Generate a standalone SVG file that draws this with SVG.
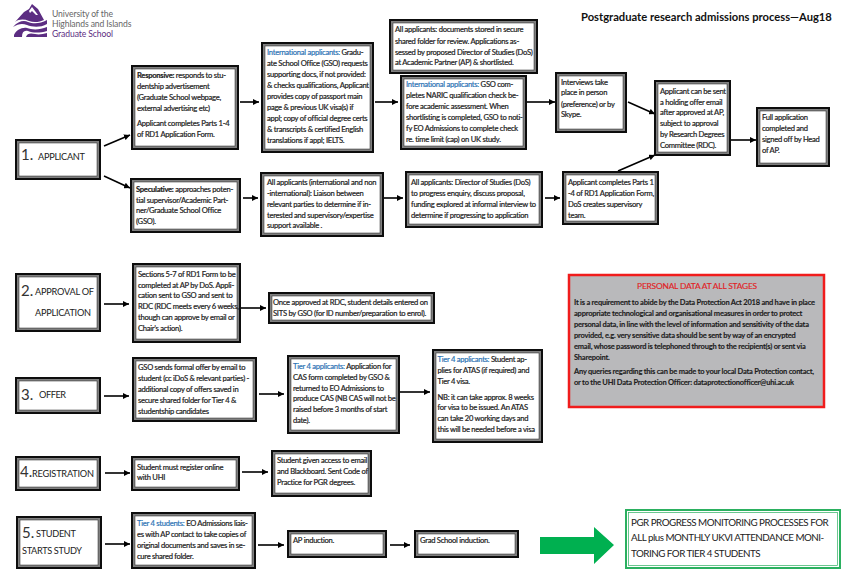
<svg xmlns="http://www.w3.org/2000/svg" width="850" height="575" viewBox="0 0 850 575">
<style>
text{font-family:"Lato","Liberation Sans",sans-serif;fill:#222}
.t{font-size:7.6px;letter-spacing:-.27px;stroke:#222;stroke-width:.2px}
.b{font-weight:bold}
.h{fill:#2e74b5;stroke:#2e74b5}
.l{font-size:9.200px;fill:#222}
.n{font-size:15px;fill:#333}
.o{fill:#0d0d0d}.m{fill:#808080}.i{fill:#fff;stroke:#222;stroke-width:.5}
.c line{stroke:#000;stroke-width:1.6;marker-end:url(#a)}
.r{font-size:7.500px;font-weight:bold;letter-spacing:-.22px;stroke:#111;stroke-width:.1px}
.u{font-size:8.600px;letter-spacing:-.1px}
</style>
<defs><marker id="a" markerUnits="userSpaceOnUse" markerWidth="7" markerHeight="6" refX="6" refY="3" orient="auto"><path d="M0 0L6 3L0 6z" fill="#000"/></marker></defs>
<rect width="850" height="575" fill="#fff"/>
<g id="logo">
<path d="M13 27C18 21 24 20 28 22C33 24 40 24 47 20L47 24C40 28 32 27 27 25C22 23 18 24 13 27z M14 35C16 30 22 27 27 28C32 30 40 30 47 27L47 31C40 33 33 33 28 31C24 30 22 32 22 37L14 37z M26 37C27 33 31 33 35 34C39 35 43 34 47 33L47 37z" fill="#5c2d82"/>
<path d="M15 22L24 12L29 9L32 4L38 9L44 20C40 22 34 23 29 21C24 19 19 19 15 22z" fill="#5c2d82"/>
<path d="M32 7L38 15L36 15L32 11L30 13L29 11z" fill="#fff"/>
<text class="u" x="52" y="17" style="fill:#666">University of the</text>
<text class="u" x="52" y="26.500" style="fill:#666">Highlands and Islands</text>
<text class="u" x="52" y="36.500" style="fill:#5c2d82">Graduate School</text>
</g>
<text id="title" x="581" y="21" font-size="11.200" class="b" style="fill:#111">Postgraduate research admissions process—Aug18</text>
<g class="c" id="connectors">
<line x1="104" y1="146" x2="130" y2="135"/><line x1="104" y1="176" x2="130" y2="188"/>
<line x1="240" y1="102" x2="259" y2="102"/><line x1="375" y1="102" x2="398" y2="102"/>
<line x1="527" y1="102" x2="555" y2="102"/><line x1="628" y1="102" x2="655" y2="114"/>
<line x1="731" y1="140" x2="756" y2="140"/><line x1="243" y1="198" x2="258" y2="198"/>
<line x1="384" y1="198" x2="403" y2="198"/><line x1="545" y1="198" x2="560" y2="198"/>
<line x1="618" y1="171" x2="655" y2="155"/><line x1="104" y1="304" x2="129" y2="304"/>
<line x1="241" y1="308" x2="266" y2="308"/><line x1="104" y1="396" x2="129" y2="396"/>
<line x1="259" y1="394" x2="284" y2="394"/><line x1="400" y1="392" x2="430" y2="392"/>
<line x1="105" y1="473" x2="130" y2="473"/><line x1="242" y1="472" x2="268" y2="472"/>
<line x1="105" y1="544" x2="130" y2="544"/><line x1="258" y1="545" x2="284" y2="545"/>
<line x1="390" y1="545" x2="410" y2="545"/>
</g>
<g id="s1"><rect class="o" x="15" y="139" width="86" height="41"/><rect class="m" x="17" y="141" width="82" height="37"/><rect class="i" x="19" y="143" width="78" height="33"/><text class="n" x="21" y="160">1.</text><text class="l" x="38" y="160" textLength="47">APPLICANT</text></g>
<g id="responsive"><rect class="o" x="131" y="65" width="108" height="85"/><rect class="m" x="133" y="67" width="104" height="81"/><rect class="i" x="135" y="69" width="100" height="77"/><text class="t" x="137"><tspan x="137" y="77.500" class="b">Responsive:</tspan><tspan> responds to  stu-</tspan><tspan x="137" y="89">dentship advertisement</tspan><tspan x="137" y="100">(Graduate School webpage,</tspan><tspan x="137" y="110.500">external advertising etc)</tspan><tspan x="137" y="126">Applicant completes Parts 1-4</tspan><tspan x="137" y="137">of RD1 Application Form.</tspan></text></g>
<g id="intl-gso"><rect class="o" x="261" y="42" width="113" height="111"/><rect class="m" x="263" y="44" width="109" height="107"/><rect class="i" x="265" y="46" width="105" height="103"/><text class="t"><tspan x="267" y="55" class="h">International applicants:</tspan><tspan>  Gradu-</tspan><tspan x="267" y="66">ate School Office (GSO) requests</tspan><tspan x="267" y="77">supporting docs, if not provided:</tspan><tspan x="267" y="88">&amp; checks qualifications, Applicant</tspan><tspan x="267" y="98.500">provides copy of passport main</tspan><tspan x="267" y="110">page &amp; previous UK visa(s) if</tspan><tspan x="267" y="121">appl; copy of official degree certs</tspan><tspan x="267" y="131.500">&amp; transcripts &amp; certified English</tspan><tspan x="267" y="142.500">translations if appl; IELTS.</tspan></text></g>
<g id="docs"><rect class="o" x="389" y="19" width="149" height="55"/><rect class="m" x="391" y="21" width="145" height="51"/><rect class="i" x="393" y="23" width="141" height="47"/><text class="t"><tspan x="395" y="32">All applicants: documents stored in secure</tspan><tspan x="395" y="44">shared folder for review. Applications as-</tspan><tspan x="395" y="54.500">sessed by proposed Director of Studies (DoS)</tspan><tspan x="395" y="65">at Academic Partner (AP) &amp; shortlisted.</tspan></text></g>
<g id="naric"><rect class="o" x="400" y="75" width="127" height="75"/><rect class="m" x="402" y="77" width="123" height="71"/><rect class="i" x="404" y="79" width="119" height="67"/><text class="t"><tspan x="406" y="87" class="h">International applicants:</tspan><tspan>  GSO com-</tspan><tspan x="406" y="98">pletes NARIC qualification check be-</tspan><tspan x="406" y="109">fore academic assessment. When</tspan><tspan x="406" y="120">shortlisting is completed, GSO to noti-</tspan><tspan x="406" y="131">fy EO Admissions to complete check</tspan><tspan x="406" y="142">re. time limit (cap) on UK study.</tspan></text></g>
<g id="interviews"><rect class="o" x="555" y="72" width="72" height="61"/><rect class="m" x="557" y="74" width="68" height="57"/><rect class="i" x="559" y="76" width="64" height="53"/><text class="t"><tspan x="561" y="84.500">Interviews take</tspan><tspan x="561" y="95">place in person</tspan><tspan x="561" y="106.500">(preference) or by</tspan><tspan x="561" y="117">Skype.</tspan></text></g>
<g id="holding"><rect class="o" x="654" y="80" width="77" height="76"/><rect class="m" x="656" y="82" width="73" height="72"/><rect class="i" x="658" y="84" width="69" height="68"/><text class="t"><tspan x="660" y="94">Applicant can be sent</tspan><tspan x="660" y="104.500">a holding offer email</tspan><tspan x="660" y="115">after approved at AP,</tspan><tspan x="660" y="126">subject to approval</tspan><tspan x="660" y="137">by Research Degrees</tspan><tspan x="660" y="148">Committee (RDC).</tspan></text></g>
<g id="full"><rect class="o" x="756" y="107" width="74" height="60"/><rect class="m" x="758" y="109" width="70" height="56"/><rect class="i" x="760" y="111" width="66" height="52"/><text class="t"><tspan x="762" y="120">Full application</tspan><tspan x="762" y="131">completed and</tspan><tspan x="762" y="142">signed off by Head</tspan><tspan x="762" y="153">of AP.</tspan></text></g>
<g id="speculative"><rect class="o" x="130" y="178" width="111" height="55"/><rect class="m" x="132" y="180" width="107" height="51"/><rect class="i" x="134" y="182" width="103" height="47"/><text class="t"><tspan x="136" y="192" class="b">Speculative:</tspan><tspan> approaches poten-</tspan><tspan x="136" y="202.500">tial  supervisor/Academic Part-</tspan><tspan x="136" y="213">ner/Graduate School Office</tspan><tspan x="136" y="224">(GSO).</tspan></text></g>
<g id="all-non"><rect class="o" x="260" y="172" width="124" height="65"/><rect class="m" x="262" y="174" width="120" height="61"/><rect class="i" x="264" y="176" width="116" height="57"/><text class="t"><tspan x="267" y="184.500">All applicants (international and non</tspan><tspan x="267" y="196">-international): Liaison between</tspan><tspan x="267" y="207">relevant parties to determine if in-</tspan><tspan x="267" y="217.500">terested and supervisory/expertise</tspan><tspan x="267" y="228">support available .</tspan></text></g>
<g id="director"><rect class="o" x="405" y="171" width="138" height="57"/><rect class="m" x="407" y="173" width="134" height="53"/><rect class="i" x="409" y="175" width="130" height="49"/><text class="t"><tspan x="411" y="185">All applicants: Director of Studies (DoS)</tspan><tspan x="411" y="196">to progress enquiry, discuss proposal,</tspan><tspan x="411" y="207">funding explored at informal interview to</tspan><tspan x="411" y="217.500">determine if progressing to application</tspan></text></g>
<g id="completes"><rect class="o" x="562" y="171" width="97" height="54"/><rect class="m" x="564" y="173" width="93" height="50"/><rect class="i" x="566" y="175" width="89" height="46"/><text class="t"><tspan x="568" y="185">Applicant completes Parts 1</tspan><tspan x="568" y="196">-4 of RD1 Application Form,</tspan><tspan x="568" y="207">DoS creates supervisory</tspan><tspan x="568" y="217.500">team.</tspan></text></g>
<g id="s2"><rect class="o" x="15" y="273" width="86" height="59"/><rect class="m" x="17" y="275" width="82" height="55"/><rect class="i" x="19" y="277" width="78" height="51"/><text class="n" x="21" y="296">2.</text><text class="l" x="35" y="295" textLength="59">APPROVAL OF</text><text class="l" x="35" y="316" textLength="56">APPLICATION</text></g>
<g id="sections"><rect class="o" x="132" y="263" width="109" height="80"/><rect class="m" x="134" y="265" width="105" height="76"/><rect class="i" x="136" y="267" width="101" height="72"/><text class="t"><tspan x="138" y="276.500">Sections 5-7 of RD1 Form to be</tspan><tspan x="138" y="287.500">completed at AP by DoS. Appli-</tspan><tspan x="138" y="298">cation sent to  GSO and sent to</tspan><tspan x="138" y="309">RDC (RDC meets every 6 weeks,</tspan><tspan x="138" y="320">though can approve by email or</tspan><tspan x="138" y="331">Chair’s action).</tspan></text></g>
<g id="sits"><rect class="o" x="268" y="292" width="167" height="32"/><rect class="m" x="270" y="294" width="163" height="28"/><rect class="i" x="272" y="296" width="159" height="24"/><text class="t"><tspan x="273" y="305">Once approved at RDC, student details  entered on</tspan><tspan x="273" y="316">SITS by GSO (for ID number/preparation to enrol).</tspan></text></g>
<g id="s3"><rect class="o" x="15" y="377" width="86" height="37"/><rect class="m" x="17" y="379" width="82" height="33"/><rect class="i" x="19" y="381" width="78" height="29"/><text class="n" x="21" y="400">3.</text><text class="l" x="39" y="398" textLength="27">OFFER</text></g>
<g id="gso-offer"><rect class="o" x="132" y="357" width="125" height="65"/><rect class="m" x="134" y="359" width="121" height="61"/><rect class="i" x="136" y="361" width="117" height="57"/><text class="t"><tspan x="138" y="370">GSO sends formal offer by email to</tspan><tspan x="138" y="381">student (cc iDoS &amp; relevant parties) -</tspan><tspan x="138" y="392">additional copy of offers saved in</tspan><tspan x="138" y="403">secure shared folder for Tier 4 &amp;</tspan><tspan x="138" y="414">studentship candidates</tspan></text></g>
<g id="tier4-cas"><rect class="o" x="287" y="355" width="113" height="79"/><rect class="m" x="289" y="357" width="109" height="75"/><rect class="i" x="291" y="359" width="105" height="71"/><text class="t"><tspan x="293" y="368.500" class="h">Tier 4 applicants:</tspan><tspan>  Application for</tspan><tspan x="293" y="379.500">CAS form completed by GSO &amp;</tspan><tspan x="293" y="390.500">returned to EO Admissions to</tspan><tspan x="293" y="401">produce CAS (NB CAS will not be</tspan><tspan x="293" y="412">raised before 3 months of start</tspan><tspan x="293" y="423">date).</tspan></text></g>
<g id="tier4-visa"><rect class="o" x="432" y="349" width="111" height="94"/><rect class="m" x="434" y="351" width="107" height="90"/><rect class="i" x="436" y="353" width="103" height="86"/><text class="t"><tspan x="437.500" y="362" class="h">Tier 4 applicants:</tspan><tspan> Student ap-</tspan><tspan x="437.500" y="373">plies for ATAS (if required) and</tspan><tspan x="437.500" y="384">Tier 4 visa.</tspan><tspan x="437.500" y="399.500">NB: it can take approx. 8 weeks</tspan><tspan x="437.500" y="410">for visa to be issued. An ATAS</tspan><tspan x="437.500" y="421">can take 20 working days and</tspan><tspan x="437.500" y="432">this will be needed before a visa</tspan></text></g>
<g id="s4"><rect class="o" x="15" y="456" width="86" height="35"/><rect class="m" x="17" y="458" width="82" height="31"/><rect class="i" x="19" y="460" width="78" height="27"/><text class="n" x="20" y="477">4.</text><text class="l" x="32" y="477" textLength="62">REGISTRATION</text></g>
<g id="register"><rect class="o" x="131" y="456" width="109" height="35"/><rect class="m" x="133" y="458" width="105" height="31"/><rect class="i" x="135" y="460" width="101" height="27"/><text class="t"><tspan x="137" y="469.500">Student must register online</tspan><tspan x="137" y="480">with UHI</tspan></text></g>
<g id="access"><rect class="o" x="271" y="450" width="101" height="47"/><rect class="m" x="273" y="452" width="97" height="43"/><rect class="i" x="275" y="454" width="93" height="39"/><text class="t"><tspan x="277" y="463">Student given access to email</tspan><tspan x="277" y="474">and Blackboard. Sent Code of</tspan><tspan x="277" y="485">Practice for PGR degrees.</tspan></text></g>
<g id="s5"><rect class="o" x="16" y="516" width="86" height="53"/><rect class="m" x="18" y="518" width="82" height="49"/><rect class="i" x="20" y="520" width="78" height="45"/><text class="n" x="22" y="538">5.</text><text class="l" x="36" y="537" textLength="40">STUDENT</text><text class="l" x="22" y="554" textLength="60">STARTS STUDY</text></g>
<g id="tier4-students"><rect class="o" x="131" y="512" width="125" height="57"/><rect class="m" x="133" y="514" width="121" height="53"/><rect class="i" x="135" y="516" width="117" height="49"/><text class="t"><tspan x="137" y="526" class="h">Tier 4 students:</tspan><tspan> EO Admissions liais-</tspan><tspan x="137" y="537">es with AP contact to take copies of</tspan><tspan x="137" y="547.500">original documents and saves in se-</tspan><tspan x="137" y="559">cure shared folder.</tspan></text></g>
<g id="ap"><rect class="o" x="287" y="530" width="100" height="28"/><rect class="m" x="289" y="532" width="96" height="24"/><rect class="i" x="291" y="534" width="92" height="20"/><text class="t" x="293" y="543">AP induction.</text></g>
<g id="grad"><rect class="o" x="414" y="530" width="105" height="28"/><rect class="m" x="416" y="532" width="101" height="24"/><rect class="i" x="418" y="534" width="97" height="20"/><text class="t" x="420" y="543">Grad School induction.</text></g>
<g id="big-arrow"><path d="M540 537H594V527L614 545L594 564V554H540z" fill="#00b050"/></g>
<g id="monitor"><rect x="626" y="510" width="214" height="58" fill="#fff" stroke="#2bb060" stroke-width="2"/><rect x="628.500" y="512.500" width="209" height="53" fill="none" stroke="#2bb060" stroke-width=".7"/><text font-size="9.800" letter-spacing="-.5"><tspan x="631" y="526">PGR PROGRESS MONITORING PROCESSES FOR</tspan><tspan x="631" y="541">ALL plus MONTHLY UKVI ATTENDANCE MONI-</tspan><tspan x="631" y="556.500">TORING FOR TIER 4 STUDENTS</tspan></text></g>
<g id="personal"><rect x="569" y="275" width="255" height="132" fill="#b9b9bb" stroke="#f01c1c" stroke-width="2.500"/><text x="697" y="288.500" text-anchor="middle" font-size="8.400" letter-spacing="-.2" style="fill:#e01f26;stroke:#e01f26;stroke-width:.15">PERSONAL DATA AT ALL STAGES</text><text class="r"><tspan x="574" y="304.500">It is a requirement to abide by the Data Protection Act 2018 and have in place</tspan><tspan x="574" y="316">appropriate technological and organisational measures in order to protect</tspan><tspan x="574" y="327">personal data, in line with the level of information and sensitivity of the data</tspan><tspan x="574" y="338">provided, e.g. very sensitive data should be sent by way of an encrypted</tspan><tspan x="574" y="349">email, whose password is telephoned through to the recipient(s) or sent via</tspan><tspan x="574" y="360">Sharepoint.</tspan><tspan x="574" y="374">Any queries regarding this can be made to your local Data Protection contact,</tspan><tspan x="574" y="385">or to the UHI Data Protection Officer: dataprotectionofficer@uhi.ac.uk</tspan></text></g>
</svg>
